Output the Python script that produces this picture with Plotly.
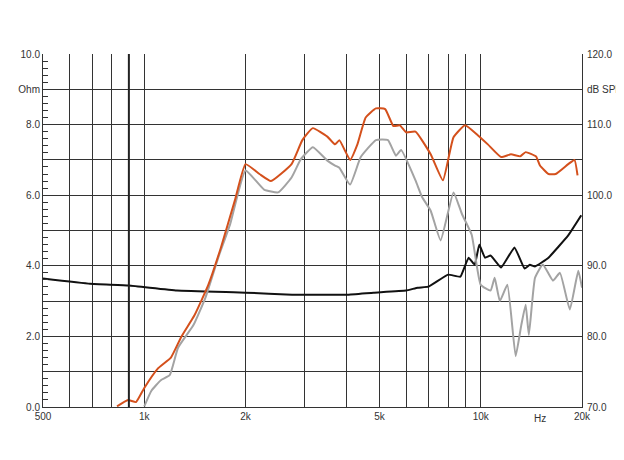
import plotly.graph_objects as go

# on-axis SPL (dB)
spl_f = [830, 895, 945, 1000, 1100, 1200, 1290, 1410, 1550, 1690, 1860, 2000, 2200, 2380,
         2740, 2950, 3170, 3500, 3690, 3800, 4090, 4300, 4550, 4880, 5200, 5500, 5750, 6000,
         6400, 7100, 7720, 8300, 8980, 9800, 10500, 11500, 12300, 13100, 13600, 14600, 15000,
         15900, 16700, 18200, 19000, 19400]
spl_db = [70.1, 71.0, 70.7, 72.7, 75.5, 77.0, 80.0, 83.0, 87.3, 92.6, 99.3, 104.4, 103.0, 102.0,
          104.4, 107.8, 109.5, 108.3, 107.2, 107.8, 105.0, 107.2, 111.0, 112.3, 112.2, 109.8, 109.9, 108.9,
          109.0, 105.8, 102.1, 108.2, 109.9, 108.5, 107.2, 105.4, 105.8, 105.5, 106.1, 105.5, 104.2,
          103.0, 103.0, 104.4, 105.0, 102.8]

# off-axis SPL (dB)
off_f = [1000, 1050, 1120, 1190, 1260, 1400, 1520, 1660, 1800, 2000, 2270, 2500, 2740, 2920,
         3170, 3500, 3690, 3800, 4090, 4400, 4880, 5300, 5600, 5800, 6400, 6700, 7100, 7600,
         8300, 8800, 9400, 10000, 10700, 11000, 11400, 12000, 12700, 13200, 13600, 13900, 14500,
         15300, 16400, 17200, 18400, 19500, 20000]
off_db = [70.1, 72.3, 73.8, 74.5, 78.4, 81.6, 85.5, 91.2, 95.9, 103.5, 100.8, 100.4, 102.5, 105.1,
          106.8, 104.9, 104.2, 103.9, 101.5, 105.4, 107.8, 107.8, 105.6, 106.4, 102.1, 99.7, 97.8, 93.6,
          100.4, 97.3, 94.4, 87.3, 86.5, 88.3, 85.0, 87.3, 77.2, 81.6, 84.5, 80.2, 88.3,
          90.2, 87.9, 89.0, 83.8, 89.3, 86.9]

# impedance (Ohm)
imp_f = [500, 690, 900, 1250, 2000, 2750, 4000, 4800, 6000, 6500, 7000, 8000, 8700, 9200, 9600,
         9900, 10300, 10700, 11500, 12600, 13500, 14000, 14500, 15900, 18200, 19900]
imp_ohm = [3.64, 3.49, 3.44, 3.30, 3.24, 3.18, 3.18, 3.24, 3.30, 3.38, 3.41, 3.75, 3.69, 4.23, 4.03,
           4.60, 4.23, 4.29, 3.95, 4.52, 3.92, 4.03, 3.98, 4.23, 4.86, 5.43]

grid_f = [500, 600, 700, 800, 900, 1000, 2000, 3000, 4000, 5000, 6000, 7000, 8000, 9000,
          10000, 20000]
x_labels = {500: "500", 1000: "1k", 2000: "2k", 5000: "5k", 10000: "10k", 20000: "20k"}
ohm_labels = {0: "0.0", 2: "2.0", 4: "4.0", 6: "6.0", 8: "8.0", 9: "Ohm", 10: "10.0"}
db_ticks = [70, 80, 90, 100, 110, 115, 120]
db_labels = ["70.0", "80.0", "90.0", "100.0", "110.0", "dB SPL", "120.0"]

font = dict(family="Liberation Sans, Arial", size=10, color="#333")

fig = go.Figure()
fig.add_trace(go.Scatter(x=off_f, y=off_db, yaxis="y2", mode="lines",
                         line=dict(color="#a3a3a3", width=2, shape="spline", smoothing=0.4)))
fig.add_trace(go.Scatter(x=spl_f, y=spl_db, yaxis="y2", mode="lines",
                         line=dict(color="#d4501c", width=2, shape="spline", smoothing=0.4)))
fig.add_trace(go.Scatter(x=imp_f, y=imp_ohm, mode="lines",
                         line=dict(color="#111", width=2, shape="spline", smoothing=0.3)))

# thicker line at 900 Hz
fig.add_shape(type="line", x0=900, x1=900, y0=0, y1=10, xref="x", yref="y",
              line=dict(color="#222", width=2))

fig.add_annotation(x=4.176, y=0, xref="x", yref="paper", text="Hz", showarrow=False,
                   yanchor="top", font=font, yshift=-4)

fig.update_layout(
    width=624, height=460, showlegend=False,
    plot_bgcolor="white", paper_bgcolor="white", font=font,
    margin=dict(l=35, r=50, t=46, b=61),
    xaxis=dict(type="log", range=[2.69897, 4.30103], tickvals=grid_f,
               ticktext=[x_labels.get(v, "") for v in grid_f], automargin=False,
               showgrid=True, gridcolor="#333", gridwidth=1, ticks="",
               showline=True, linecolor="#333", linewidth=1, zeroline=False),
    yaxis=dict(range=[0, 10], tickvals=list(range(11)), automargin=False,
               ticktext=[ohm_labels.get(v, "") for v in range(11)],
               showgrid=True, gridcolor="#333", gridwidth=1, zeroline=False,
               showline=True, linecolor="#333", linewidth=1,
               ticks="inside", ticklen=6, tickcolor="#333",
               minor=dict(dtick=0.2, ticks="inside", ticklen=5, tickcolor="#333", showgrid=False)),
    yaxis2=dict(range=[70, 120], overlaying="y", side="right", tickvals=db_ticks,
                ticktext=db_labels, showgrid=False, zeroline=False, showline=True,
                automargin=False, linecolor="#333", linewidth=1, ticks="outside", ticklen=2,
                tickcolor="white"),
)

fig.write_html("out.html")
